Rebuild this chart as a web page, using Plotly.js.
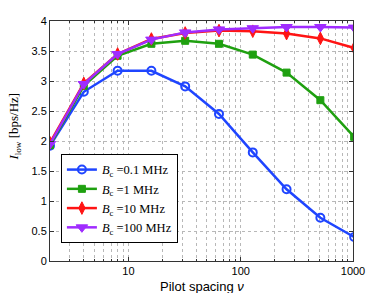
<!DOCTYPE html>
<html>
<head>
<meta charset="utf-8">
<script src="https://cdn.plot.ly/plotly-3.0.1.min.js"></script>
<style>html,body{margin:0;padding:0;background:#fff;}#chart{width:390px;height:293px;}</style>
</head>
<body>
<div id="chart"></div>
<script>
const pilotSpacing = [2, 4, 8, 16, 32, 64, 128, 256, 512, 1024];
const bc01 = [1.92, 2.82, 3.17, 3.17, 2.91, 2.45, 1.81, 1.195, 0.72, 0.40];
const bc1 = [1.93, 2.92, 3.42, 3.62, 3.67, 3.62, 3.44, 3.14, 2.68, 2.07];
const bc10 = [1.97, 2.96, 3.45, 3.70, 3.80, 3.84, 3.83, 3.79, 3.71, 3.55];
const bc100 = [1.95, 2.95, 3.45, 3.69, 3.81, 3.86, 3.88, 3.90, 3.90, 3.89];
const seriesNames = ['<i>B</i><sub>c</sub> =0.1 MHz', '<i>B</i><sub>c</sub> =1 MHz', '<i>B</i><sub>c</sub> =10 MHz', '<i>B</i><sub>c</sub> =100 MHz'];
const xTickVals = [10, 100, 1000];
const xTickText = ['10', '100', '1000'];
const yTickVals = [0, 0.5, 1, 1.5, 2, 2.5, 3, 3.5, 4];
const yTickText = ['0', '0.5', '1', '1.5', '2', '2.5', '3', '3.5', '4'];

const minorX = [];
[1, 10, 100].forEach(d => { for (let k = 2; k <= 9; k++) minorX.push(k * d); });

const styles = [
  {color: '#1f45ff', symbol: 'circle-open', size: 8, mlw: 2},
  {color: '#1fa010', symbol: 'square', size: 7, mlw: 1},
  {color: '#ff1414', symbol: 'diamond-tall', size: 9, mlw: 1},
  {color: '#a02cff', symbol: 'triangle-down', size: 10, mlw: 1}
];
const ys = [bc01, bc1, bc10, bc100];
const traces = ys.map((y, i) => ({
  x: pilotSpacing, y: y, type: 'scatter', mode: 'lines+markers', name: seriesNames[i],
  line: {color: styles[i].color, width: 2.5},
  marker: {symbol: styles[i].symbol, size: styles[i].size, color: styles[i].color,
           line: {color: styles[i].color, width: styles[i].mlw}},
  cliponaxis: true
}));

const gridCol = '#b8b8b8';
const layout = {
  width: 390, height: 293,
  margin: {l: 50, r: 37, t: 21, b: 32},
  paper_bgcolor: '#fff', plot_bgcolor: '#fff',
  font: {family: 'Liberation Sans, Arial, sans-serif', size: 11, color: '#000'},
  showlegend: true,
  legend: {x: 0.036, y: 0.446, xanchor: 'left', yanchor: 'top',
           bgcolor: '#fff', bordercolor: '#000', borderwidth: 1,
           font: {family: 'Liberation Serif, Times New Roman, serif', size: 12.5},
           tracegroupgap: 0, itemwidth: 30},
  xaxis: {type: 'log', range: [Math.log10(2), 3], tickmode: 'array', tickvals: xTickVals, ticktext: xTickText,
          ticks: 'inside', ticklen: 4, tickcolor: '#333', showline: true, linecolor: '#333', linewidth: 1, mirror: 'ticks',
          showgrid: true, gridcolor: gridCol, griddash: 'dot', gridwidth: 1, zeroline: false,
          minor: {tickmode: 'array', tickvals: minorX, ticks: 'inside', ticklen: 2, tickcolor: '#333',
                  showgrid: true, gridcolor: gridCol, griddash: 'dot', gridwidth: 1},
          tickfont: {size: 11}},
  yaxis: {range: [0, 4], tickmode: 'array', tickvals: yTickVals, ticktext: yTickText,
          ticks: 'inside', ticklen: 4, tickcolor: '#333', showline: true, linecolor: '#333', linewidth: 1, mirror: 'ticks',
          showgrid: true, gridcolor: gridCol, griddash: 'dot', gridwidth: 1, zeroline: false,
          tickfont: {size: 11}},
  annotations: [
    {text: 'Pilot spacing <i>ν</i>', xref: 'paper', yref: 'paper', x: 0.5, y: 0, yshift: -25,
     xanchor: 'center', yanchor: 'middle', showarrow: false,
     font: {family: 'Liberation Sans, Arial, sans-serif', size: 13}},
    {text: '<i>I</i><sub>low</sub> [bps/Hz]', xref: 'paper', yref: 'paper', x: 0, xshift: -35, y: 0.56,
     xanchor: 'center', yanchor: 'middle', textangle: -90, showarrow: false,
     font: {family: 'Liberation Serif, Times New Roman, serif', size: 13}}
  ]
};
Plotly.newPlot('chart', traces, layout, {displayModeBar: false, staticPlot: true});
</script>
</body>
</html>
